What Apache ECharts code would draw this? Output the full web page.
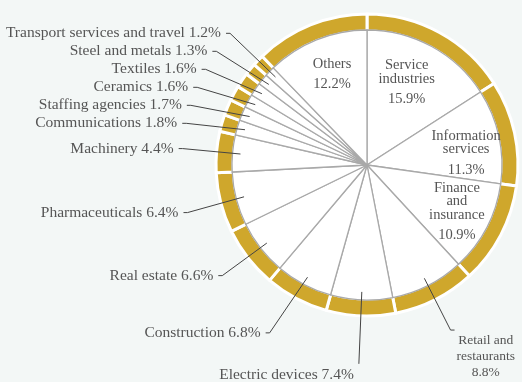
<!DOCTYPE html>
<html><head><meta charset="utf-8">
<script src="https://cdn.jsdelivr.net/npm/echarts@6/dist/echarts.min.js"></script>
<style>html,body{margin:0;padding:0;background:#f3f7f6}#c{width:522px;height:382px}</style>
</head><body><div id="c"></div>
<script>
const categories = ['Service industries','Information services','Finance and insurance','Retail and restaurants','Electric devices','Construction','Real estate','Pharmaceuticals','Machinery','Communications','Staffing agencies','Ceramics','Textiles','Steel and metals','Transport services and travel','Others'];
const shares = [15.9,11.3,10.9,8.8,7.4,6.8,6.6,6.4,4.4,1.8,1.7,1.6,1.6,1.3,1.2,12.2];
const insideLabels = ['Service industries','Information services','Finance and insurance','Others'];
const displayNames = {
  'Service industries':'Service\nindustries',
  'Information services':'Information\nservices',
  'Finance and insurance':'Finance\nand\ninsurance',
  'Others':'Others',
  'Retail and restaurants':'Retail and\nrestaurants'
};

const FONT = '"Liberation Serif", "DejaVu Serif", serif';
const TXT = '#555';
const center = [367,165];
const pct = v => v.toFixed(1) + '%';

// label placement tweaks (styling, not data)
const innerTweaks = {
  'Service industries': {offset:[-9,7]},
  'Information services': {offset:[0,10]},
  'Others': {offset:[3,4]}
};
const outerTweaks = {
  'Retail and restaurants': {label:{padding:[52,0,0,0], fontSize:13.5,
      formatter:p=>'{c|Retail and}\n{c|restaurants}\n{c|' + pct(p.value) + '}',
      rich:{c:{fontFamily:FONT, fontSize:13.5, color:TXT, width:68, align:'center', lineHeight:16}}},
    labelLine:{length:58}},
  'Electric devices': {labelLine:{length:72, length2:0}},
  'Real estate': {labelLine:{length:53}}
};
const labelShiftDown = {'Electric devices': 11};

const chart = echarts.init(document.getElementById('c'));
const base = categories.map((n,i)=>({name:n, value:shares[i]}));

const ringData = base.map(d=>({...d}));
const pieData = base.map(d=>({...d}));
const outerData = base.map(d=>{
  const inside = insideLabels.includes(d.name);
  const t = outerTweaks[d.name] || {};
  return {...d, label:Object.assign({show:!inside}, t.label||{}), labelLine:Object.assign({show:!inside}, t.labelLine||{})};
});
const innerData = base.map(d=>{
  const inside = insideLabels.includes(d.name);
  return {...d, label:Object.assign({show:inside}, innerTweaks[d.name]||{})};
});

chart.setOption({
  backgroundColor:'#f3f7f6',
  animation:false,
  series:[
    {type:'pie', z:1, center, radius:[134,151], startAngle:90, clockwise:true, silent:true,
     label:{show:false}, labelLine:{show:false},
     itemStyle:{color:'#cfa72c', borderColor:'#ffffff', borderWidth:3},
     data:ringData},
    {type:'pie', z:2, center, radius:[0,135], startAngle:90, clockwise:true, silent:true,
     label:{show:false}, labelLine:{show:false},
     itemStyle:{color:'#ffffff', borderColor:'#a9a9a9', borderWidth:1.3},
     data:pieData},
    {type:'pie', z:5, center, radius:[0,127], startAngle:90, clockwise:true, silent:true,
     avoidLabelOverlap:true,
     itemStyle:{color:'rgba(0,0,0,0)', borderWidth:0},
     label:{position:'outer', alignTo:'none', fontFamily:FONT, fontSize:15.5, color:TXT, overflow:'none',
       padding:[3.5,0,3.5,0],
       formatter:p=>{
         const dn = displayNames[p.name];
         return dn ? dn + '\n' + pct(p.value) : p.name + ' ' + pct(p.value);
       }},
     labelLine:{length:63, length2:4, smooth:false, lineStyle:{color:'#444', width:1}},
     labelLayout:p=>{
       const s = labelShiftDown[categories[p.dataIndex]];
       return s ? {dy:s} : {};
     },
     data:outerData},
    {type:'pie', z:5, center, radius:[62,135], startAngle:90, clockwise:true, silent:true,
     itemStyle:{color:'rgba(0,0,0,0)', borderWidth:0},
     label:{position:'inside', fontFamily:FONT, color:TXT,
       formatter:p=>'{n|' + (displayNames[p.name]||p.name) + '}\n{p|' + pct(p.value) + '}',
       rich:{
         n:{fontFamily:FONT, fontSize:14.5, color:TXT, lineHeight:13.5, align:'center'},
         p:{fontFamily:FONT, fontSize:14.5, color:TXT, lineHeight:21, align:'center', verticalAlign:'bottom'}
       }},
     labelLine:{show:false},
     data:innerData}
  ]
});
</script></body></html>
